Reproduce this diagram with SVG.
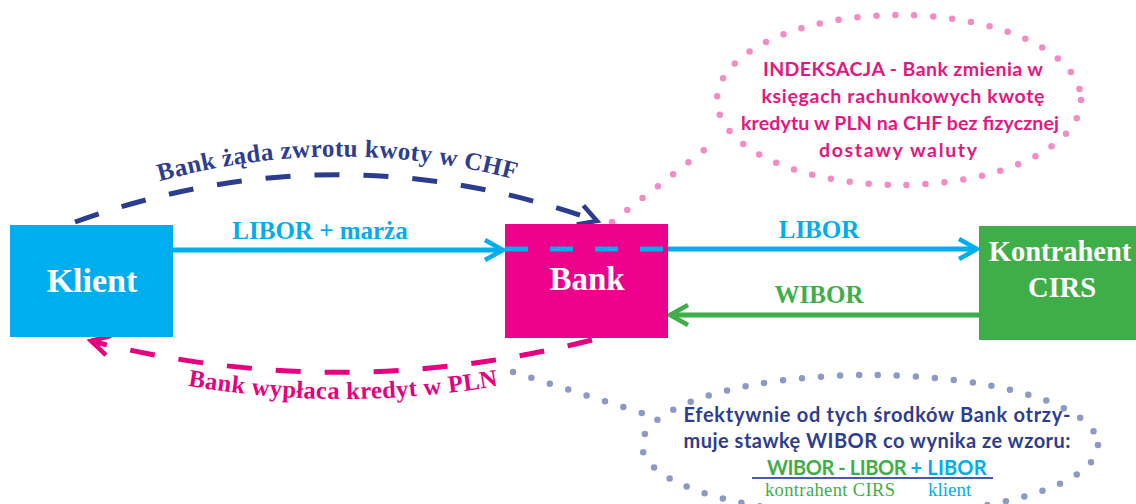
<svg xmlns="http://www.w3.org/2000/svg" width="1136" height="504" viewBox="0 0 1136 504">
<style>
.node-label{font-family:"Liberation Serif",serif;font-weight:bold;fill:#ffffff;text-anchor:middle}
.edge-label{font-family:"Liberation Serif",serif;font-weight:bold;text-anchor:middle}
.note{font-family:Lato,"Noto Sans",sans-serif;font-weight:bold;text-anchor:middle}
.sub{font-family:"Liberation Serif",serif}
.dots{fill:none;stroke-linecap:round}
</style>
<defs>
<marker id="ahCyan" markerUnits="userSpaceOnUse" viewBox="-24 -14 30 28" refX="0" refY="0" markerWidth="30" markerHeight="28" orient="auto">
<path d="M -18 -10 L 0 0 L -18 10" fill="none" stroke="#00aeef" stroke-width="4.5"/>
</marker>
<marker id="ahGreen" markerUnits="userSpaceOnUse" viewBox="-24 -14 30 28" refX="0" refY="0" markerWidth="30" markerHeight="28" orient="auto">
<path d="M -18 -10 L 0 0 L -18 10" fill="none" stroke="#3fae49" stroke-width="4.5"/>
</marker>
<marker id="ahBlue" markerUnits="userSpaceOnUse" viewBox="-24 -14 30 28" refX="0" refY="0" markerWidth="30" markerHeight="28" orient="auto">
<path d="M -18 -10 L 0 0 L -18 10" fill="none" stroke="#2b3d8e" stroke-width="4.5"/>
</marker>
<marker id="ahPink" markerUnits="userSpaceOnUse" viewBox="-24 -14 30 28" refX="0" refY="0" markerWidth="30" markerHeight="28" orient="auto">
<path d="M -18 -10 L 0 0 L -18 10" fill="none" stroke="#e6007e" stroke-width="4.5"/>
</marker>
<path id="arcTop" d="M 150 184 Q 335 130 525 182"/>
<path id="arcBottom" d="M 178 384 Q 343 414 508 384"/>
</defs>
<rect width="1136" height="504" fill="#ffffff"/>

<g id="note-indeksacja">
<ellipse cx="899" cy="100" rx="182" ry="85" class="dots" stroke="#f48cc4" stroke-width="6.5" stroke-dasharray="0 19"/>
<line x1="612" y1="222" x2="708" y2="147" class="dots" stroke="#f48cc4" stroke-width="6.5" stroke-dasharray="0 19.4"/>
<g class="note" fill="#e5177e" font-size="19.5">
<text x="903" y="76" textLength="280">INDEKSACJA - Bank zmienia w</text>
<text x="903" y="103" textLength="283">księgach rachunkowych kwotę</text>
<text x="900" y="130" textLength="318">kredytu w PLN na CHF bez fizycznej</text>
<text x="898" y="157" textLength="158">dostawy waluty</text>
</g>
</g>

<g id="note-efektywnie">
<ellipse cx="870" cy="445" rx="228" ry="70" class="dots" stroke="#8d9ac8" stroke-width="6.5" stroke-dasharray="0 19"/>
<line x1="513" y1="372" x2="642" y2="413" class="dots" stroke="#8d9ac8" stroke-width="6.5" stroke-dasharray="0 19.3"/>
<g class="note" fill="#2e3d8f" font-size="20">
<text x="877" y="422" textLength="387">Efektywnie od tych środków Bank otrzy-</text>
<text x="877" y="448" textLength="387">muje stawkę WIBOR co wynika ze wzoru:</text>
</g>
<text x="767" y="475" font-family="Lato,'Noto Sans',sans-serif" font-weight="bold" font-size="20"><tspan fill="#3fae49" textLength="144">WIBOR - LIBOR </tspan><tspan fill="#00aeef" textLength="76">+ LIBOR</tspan></text>
<line x1="752" y1="478" x2="993" y2="478" stroke="#4a5aa8" stroke-width="2"/>
<text x="765" y="496" class="sub" font-size="18.5" fill="#3fae49" textLength="130">kontrahent CIRS</text>
<text x="928" y="496" class="sub" font-size="19" fill="#00aeef">klient</text>
</g>

<g id="connectors">
<line x1="173" y1="250" x2="503" y2="250" stroke="#00aeef" stroke-width="5" marker-end="url(#ahCyan)"/>
<line x1="668" y1="249" x2="977" y2="249" stroke="#00aeef" stroke-width="5" marker-end="url(#ahCyan)"/>
<line x1="979" y1="315" x2="670" y2="315" stroke="#3fae49" stroke-width="5" marker-end="url(#ahGreen)"/>
<path d="M 75 222 Q 336 128 597 221" fill="none" stroke="#2b3d8e" stroke-width="5" stroke-dasharray="25 24" marker-end="url(#ahBlue)"/>
<path d="M 592 340 Q 341 404 91 341" fill="none" stroke="#e6007e" stroke-width="5" stroke-dasharray="25 24" marker-end="url(#ahPink)"/>
<text class="edge-label" font-size="25" fill="#00aeef" x="320" y="239">LIBOR + marża</text>
<text class="edge-label" font-size="25" fill="#00aeef" x="819" y="238">LIBOR</text>
<text class="edge-label" font-size="25" fill="#3fae49" x="819" y="303">WIBOR</text>
<text class="edge-label" font-size="25" fill="#2e3d8f"><textPath href="#arcTop" startOffset="50%" textLength="360">Bank żąda zwrotu kwoty w CHF</textPath></text>
<text class="edge-label" font-size="24.5" fill="#e6007e"><textPath href="#arcBottom" startOffset="50%" textLength="312">Bank wypłaca kredyt w PLN</textPath></text>
</g>

<g id="node-klient">
<rect x="10" y="225" width="163" height="112" fill="#00aeef"/>
<text class="node-label" x="92" y="292" font-size="34">Klient</text>
</g>

<g id="node-bank">
<rect x="505" y="224" width="163" height="114" fill="#ec008c"/>
<text class="node-label" x="587" y="290" font-size="33">Bank</text>
</g>
<line x1="505" y1="249" x2="668" y2="249" stroke="#00aeef" stroke-width="5" stroke-dasharray="23 22"/>

<g id="node-kontrahent">
<rect x="979" y="226" width="160" height="114" fill="#3fae49"/>
<text class="node-label" x="1060" y="261" font-size="28.5">Kontrahent</text>
<text class="node-label" x="1062" y="297" font-size="28.5">CIRS</text>
</g>
</svg>
